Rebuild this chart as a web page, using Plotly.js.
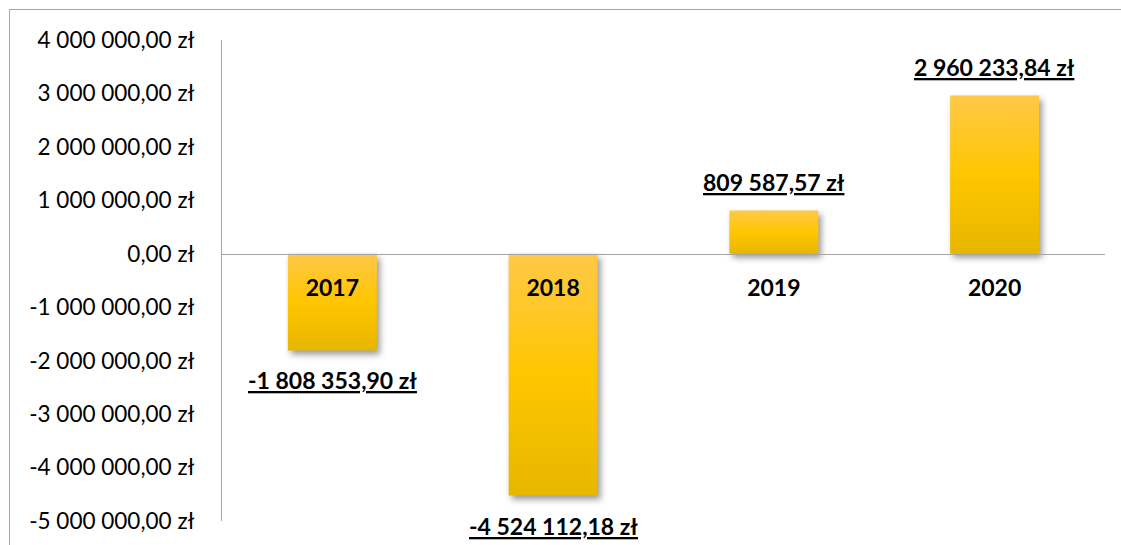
<!DOCTYPE html>
<html>
<head>
<meta charset="utf-8">
<script src="https://cdn.plot.ly/plotly-3.0.1.min.js"></script>
<style>
  html, body { margin: 0; padding: 0; background: #fff; overflow: hidden; }
  #frame { position: absolute; left: 9px; top: 9px; width: 1200px; height: 700px;
           border-left: 1px solid #A6A6A6; border-top: 1px solid #A6A6A6; pointer-events: none; }
  #chart { position: absolute; left: 0; top: 0; width: 1121px; height: 545px; }
  .trace.bars .point path {
    fill: url(#barGrad) !important;
    filter: drop-shadow(3px 4px 3px rgba(0,0,0,0.4));
  }
</style>
</head>
<body>
<svg width="0" height="0" style="position:absolute">
  <defs>
    <linearGradient id="barGrad" x1="0" y1="0" x2="0" y2="1">
      <stop offset="0" stop-color="#FFC848"/>
      <stop offset="0.5" stop-color="#FFC600"/>
      <stop offset="1" stop-color="#E6B600"/>
    </linearGradient>
  </defs>
</svg>
<div id="chart"></div>
<div id="frame"></div>
<script>
// Data
const years = ["2017", "2018", "2019", "2020"];
const values = [-1808353.90, -4524112.18, 809587.57, 2960233.84];
const valueLabels = ["-1 808 353,90 zł", "-4 524 112,18 zł", "809 587,57 zł", "2 960 233,84 zł"];
const tickValues = [4000000, 3000000, 2000000, 1000000, 0, -1000000, -2000000, -3000000, -4000000, -5000000];
const tickLabels = ["4 000 000,00 zł", "3 000 000,00 zł", "2 000 000,00 zł", "1 000 000,00 zł", "0,00 zł",
  "-1 000 000,00 zł", "-2 000 000,00 zł", "-3 000 000,00 zł", "-4 000 000,00 zł", "-5 000 000,00 zł"];

const yMin = -5000000, yMax = 4000000;
const FONT = "Lato, 'Open Sans', sans-serif";

const trace = {
  type: "bar",
  x: years,
  y: values,
  marker: { color: "#FFC600", line: { width: 0 } },
  hoverinfo: "skip",
  cliponaxis: false
};

const annotations = years.map((yr, i) => ({
  x: i,
  y: values[i],
  xref: "x",
  yref: "y",
  text: valueLabels[i],
  showarrow: false,
  xanchor: "center",
  yanchor: "middle",
  yshift: values[i] >= 0 ? 29 : -30,
  font: { family: FONT, size: 23, color: "#000", weight: "bold", lineposition: "under" }
}));

const layout = {
  width: 1121,
  height: 545,
  margin: { l: 222, r: 16, t: 40, b: 24, pad: 0 },
  paper_bgcolor: "rgba(0,0,0,0)",
  plot_bgcolor: "rgba(0,0,0,0)",
  showlegend: false,
  bargap: 0.597,
  font: { family: FONT, color: "#000" },
  xaxis: {
    type: "category",
    range: [-0.5, 3.5],
    anchor: "free",
    position: (0 - yMin) / (yMax - yMin),
    showline: true,
    linecolor: "#A6A6A6",
    linewidth: 1,
    showgrid: false,
    zeroline: false,
    ticks: "",
    ticklabelstandoff: 14,
    tickfont: { family: FONT, size: 23, color: "#000", weight: "bold" },
    fixedrange: true
  },
  yaxis: {
    range: [yMin, yMax],
    tickmode: "array",
    tickvals: tickValues,
    ticktext: tickLabels,
    showline: true,
    linecolor: "#A6A6A6",
    linewidth: 1,
    showgrid: false,
    zeroline: false,
    ticks: "",
    ticklabelstandoff: 22,
    tickfont: { family: FONT, size: 22.5, color: "#000" },
    fixedrange: true
  },
  annotations: annotations
};

Plotly.newPlot("chart", [trace], layout, { displayModeBar: false, staticPlot: true });
</script>
</body>
</html>
